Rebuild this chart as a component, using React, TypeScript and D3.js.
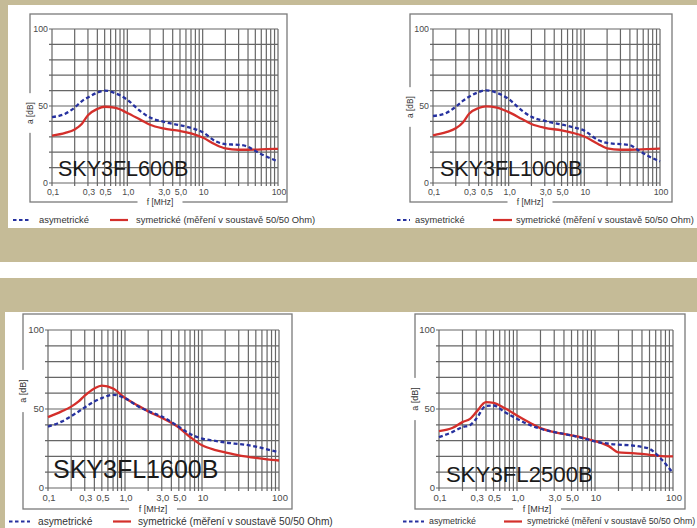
import React from "react";
import * as d3 from "d3";

// ---- data ----
const freqs = [0.1, 0.15, 0.2, 0.25, 0.3, 0.4, 0.5, 0.7, 1, 1.5, 2, 3, 5, 7, 10, 15, 20, 30, 40, 50, 70, 100];

const asym600 = [42.8, 45, 49, 53.2, 55.5, 58.7, 60, 58.2, 54, 46.5, 42.5, 39.8, 37.5, 35.8, 33, 27, 25.2, 24.8, 23.5, 20.8, 17.2, 14];
const sym600 = [30.7, 32.5, 34.8, 38.5, 44, 48.1, 49.5, 48.8, 45.5, 41, 37.8, 35.4, 33.8, 32.2, 29.5, 24.8, 22.5, 21.6, 21.6, 21.7, 22, 22.2];

const asym1000 = [43.5, 45.5, 49.5, 53.5, 56, 59, 60.2, 58.5, 54.5, 47, 43, 40.3, 38, 36.3, 34, 28, 26, 25.2, 24.6, 21.8, 17.5, 14];
const sym1000 = [31, 33, 35.5, 39.5, 45, 48.7, 49.8, 49, 46, 41.5, 38.3, 35.8, 34.2, 32.6, 30.2, 25.5, 22.5, 21.6, 21.6, 21.7, 22, 22.4];

const asym1600 = [38.9, 42, 45.5, 48.4, 51, 54.8, 56.9, 59, 56.8, 51.5, 48.7, 45.2, 38.8, 34.2, 31.3, 29.8, 28.8, 27.8, 27.1, 26.2, 24.5, 22.5];
const sym1600 = [44.9, 48.5, 51.5, 54.8, 58.5, 63, 64.8, 63, 57, 52, 48.5, 44.5, 38.3, 32.3, 27, 24, 22.5, 20.6, 19.7, 19, 18.1, 17.4];

const asym2500 = [32.2, 35.5, 38.5, 39.8, 43.8, 52, 52.2, 48, 43.8, 39.6, 37.5, 35.4, 33.3, 31.5, 29.5, 28, 27.4, 26.9, 26, 24.8, 18.5, 9.5];
const sym2500 = [36, 38.1, 41.7, 43.8, 48, 54.3, 53.9, 50.5, 45.9, 41, 37.9, 35.4, 33.3, 31.8, 29.7, 26.5, 22.5, 22.1, 21.6, 21, 20.2, 20];

const models = ["SKY3FL600B", "SKY3FL1000B", "SKY3FL1600B", "SKY3FL2500B"];
const xTickValues = [0.1, 0.3, 0.5, 1, 3, 5, 10, 100];
const xTickLabels = ["0,1", "0,3", "0,5", "1,0", "3,0", "5,0", "10", "100"];
const yTickValues = [0, 50, 100];
const legendAsym = "asymetrické";
const legendSym = "symetrické (měření v soustavě 50/50 Ohm)";
const xTitle = "f [MHz]";
const yTitle = "a [dB]";

// ---- layout ----
const layouts = [
  { x0: 52, x1: 278, yT: 29, yB: 183, fl: 30, ft: 14, fr: 287, fb: 202, xtX: 160, ytY: 113, lx: 58, ly: 176, ls: 21.5, tick: 8.8, lgY: 220, lgFont: 9.4, d0: 13, d1: 29, aT: 39, r0: 110, r1: 128, sT: 136 },
  { x0: 433, x1: 660, yT: 29, yB: 183, fl: 410, ft: 14, fr: 672, fb: 202, xtX: 530, ytY: 107, lx: 440, ly: 176, ls: 21.5, tick: 8.8, lgY: 220, lgFont: 9.3, d0: 397, d1: 410, aT: 415, r0: 493, r1: 512, sT: 516 },
  { x0: 48, x1: 279, yT: 330, yB: 488, fl: 23, ft: 314, fr: 292, fb: 509, xtX: 153, ytY: 391, lx: 53, ly: 478, ls: 25, tick: 9.5, lgY: 521.5, lgFont: 10.2, d0: 9, d1: 30, aT: 38, r0: 113, r1: 131, sT: 138 },
  { x0: 439, x1: 673, yT: 330, yB: 488, fl: 415, ft: 314, fr: 685, fb: 509, xtX: 537, ytY: 399, lx: 446, ly: 482, ls: 22.2, tick: 9.5, lgY: 521.5, lgFont: 8.8, d0: 403, d1: 424, aT: 429, r0: 504, r1: 522, sT: 527 },
];

const series = [
  [asym600, sym600],
  [asym1000, sym1000],
  [asym1600, sym1600],
  [asym2500, sym2500],
];

const FONT = "'Liberation Sans', Arial, Helvetica, sans-serif";
const BLUE = "#26319f";
const RED = "#d42f2b";
const GRID = "#666666";
const FRAME = "#7a7a7a";

function Panel({ idx }: { idx: number }) {
  const L = layouts[idx];
  const [asym, sym] = series[idx];
  const x = d3.scaleLog().domain([0.1, 100]).range([L.x0, L.x1]);
  const y = d3.scaleLinear().domain([0, 100]).range([L.yB, L.yT]);
  const vGrid = x.ticks();
  const hGrid = y.ticks(10);
  const line = d3
    .line<number>()
    .x((_, i) => x(freqs[i]))
    .y((d) => y(d))
    .curve(d3.curveMonotoneX);
  const xtW = L.tick * 4.2;
  const ytH = L.tick * 3.6;
  const lgText = L.lgY + L.lgFont * 0.3;
  return (
    <g>
      <rect x={L.fl} y={L.ft} width={L.fr - L.fl} height={L.fb - L.ft} fill="none" stroke={FRAME} strokeWidth={1.3} />
      {vGrid.map((v, i) => (
        <line key={"v" + i} x1={x(v)} x2={x(v)} y1={L.yT} y2={L.yB + 3} stroke={GRID} strokeWidth={1.2} />
      ))}
      {hGrid.map((v, i) => (
        <line key={"h" + i} x1={L.x0 - 3} x2={L.x1} y1={y(v)} y2={y(v)} stroke={GRID} strokeWidth={1.2} />
      ))}
      {xTickValues.map((v, i) => (
        <text key={"xt" + i} x={x(v) + 1} y={L.yB + L.tick * 1.35} fontSize={L.tick} fill="#4a4a4a" textAnchor="middle" fontFamily={FONT}>
          {xTickLabels[i]}
        </text>
      ))}
      {yTickValues.map((v, i) => (
        <text key={"yt" + i} x={L.x0 - 4} y={y(v) + L.tick * 0.35} fontSize={L.tick} fill="#4a4a4a" textAnchor="end" fontFamily={FONT}>
          {String(v)}
        </text>
      ))}
      <rect x={L.xtX - xtW / 2 - 4} y={L.fb - 3} width={xtW + 8} height={6} fill="#fff" />
      <text x={L.xtX} y={L.fb + L.tick * 0.33} fontSize={L.tick * 0.95} fill="#333" textAnchor="middle" fontFamily={FONT}>
        {xTitle}
      </text>
      <rect x={L.fl - 3} y={L.ytY - ytH / 2 - 4} width={6} height={ytH + 8} fill="#fff" />
      <text
        x={L.fl + L.tick * 0.33}
        y={L.ytY}
        fontSize={L.tick * 0.95}
        fill="#333"
        textAnchor="middle"
        fontFamily={FONT}
        transform={`rotate(-90 ${L.fl + L.tick * 0.33} ${L.ytY})`}
      >
        {yTitle}
      </text>
      <path d={line(sym) || ""} fill="none" stroke={RED} strokeWidth={2.3} />
      <path d={line(asym) || ""} fill="none" stroke={BLUE} strokeWidth={2.3} strokeDasharray="4 2.6" />
      <text x={L.lx} y={L.ly} fontSize={L.ls} fill="#1a1a1a" fontFamily={FONT}>
        {models[idx]}
      </text>
      <line x1={L.d0} x2={L.d1} y1={L.lgY} y2={L.lgY} stroke={BLUE} strokeWidth={2.2} strokeDasharray="3.5 2.5" />
      <text x={L.aT} y={lgText} fontSize={L.lgFont} fill="#333" fontFamily={FONT}>
        {legendAsym}
      </text>
      <line x1={L.r0} x2={L.r1} y1={L.lgY} y2={L.lgY} stroke={RED} strokeWidth={2.2} />
      <text x={L.sT} y={lgText} fontSize={L.lgFont} fill="#333" fontFamily={FONT}>
        {legendSym}
      </text>
    </g>
  );
}

export default function App() {
  return (
    <svg
      width={697}
      height={528}
      viewBox="0 0 697 528"
      style={{ position: "absolute", left: 0, top: 0, display: "block" }}
    >
      <rect x={0} y={0} width={697} height={528} fill="#c5bb97" />
      <rect x={8} y={5} width={689} height={223} fill="#ffffff" />
      <rect x={0} y={262} width={697} height={16} fill="#ffffff" />
      <rect x={5} y={312} width={692} height={216} fill="#ffffff" />
      {[0, 1, 2, 3].map((i) => (
        <Panel key={i} idx={i} />
      ))}
    </svg>
  );
}
